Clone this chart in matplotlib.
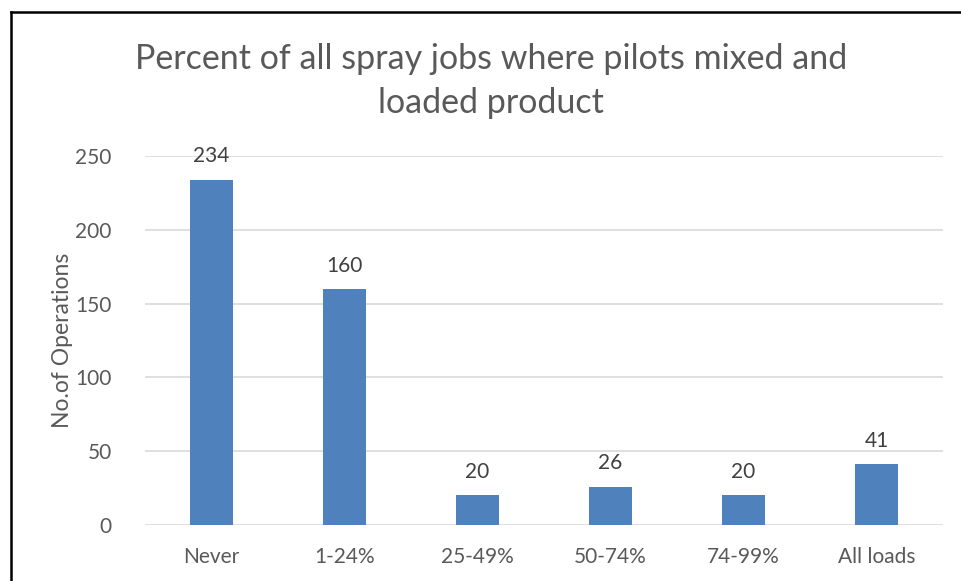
import matplotlib.pyplot as plt
from matplotlib.lines import Line2D

categories = ['Never', '1-24%', '25-49%', '50-74%', '74-99%', 'All loads']
operations = [234, 160, 20, 26, 20, 41]
yticks = [0, 50, 100, 150, 200, 250]

plt.rcParams['font.family'] = ['Lato', 'DejaVu Sans']
text_color = '#595959'

fig = plt.figure(figsize=(9.61, 5.81), dpi=100)
ax = fig.add_axes([145 / 961, 1 - 525 / 581, 798 / 961, 369 / 581])

x = range(len(categories))
bars = ax.bar(x, operations, width=0.32, color='#4F81BD', zorder=3)
for b, v in zip(bars, operations):
    ax.text(b.get_x() + b.get_width() / 2, v + 9, str(v), ha='center', va='bottom',
            fontsize=15, color='#404040')

ax.set_xlim(-0.5, len(categories) - 0.5)
ax.set_ylim(0, 250)
ax.set_yticks(yticks)
ax.set_xticks(list(x))
ax.set_xticklabels(categories)
ax.tick_params(length=0, labelsize=15, colors=text_color, pad=16)
ax.tick_params(axis='y', pad=24)
ax.grid(axis='y', color='#D9D9D9', linewidth=1.2, zorder=0)
for s in ax.spines.values():
    s.set_visible(False)
ax.set_ylabel('No.of Operations', fontsize=16.5, color=text_color, labelpad=2)

fig.text(491 / 961, 1 - 81 / 581, 'Percent of all spray jobs where pilots mixed and\nloaded product',
         ha='center', va='center', fontsize=24.5, color=text_color, linespacing=1.45)

# outer chart border (top and left visible)
fig.add_artist(Line2D([11 / 961, 1], [1 - 12 / 581, 1 - 12 / 581], color='black', lw=1.8))
fig.add_artist(Line2D([11 / 961, 11 / 961], [0, 1 - 12 / 581], color='black', lw=1.8))

fig.savefig('out.png', dpi=100)
